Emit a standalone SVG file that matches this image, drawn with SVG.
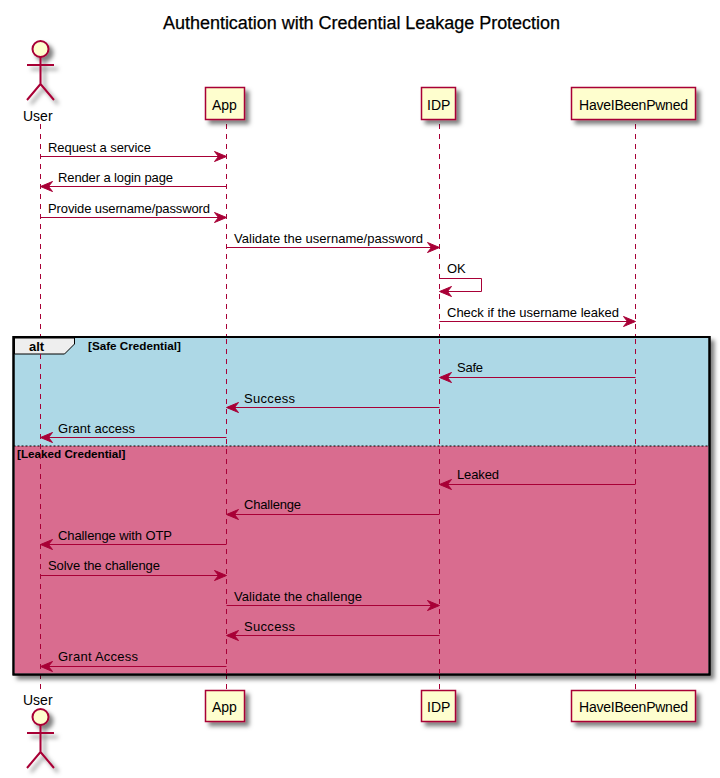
<svg xmlns="http://www.w3.org/2000/svg" width="720" height="778" viewBox="0 0 720 778">
<style>
text{font-family:"Liberation Sans",Arial,sans-serif;fill:#000}
.t{font-size:13px}
.b{font-size:14px}
.g{font-size:11.7px;font-weight:bold}
.p{fill:#FEFECE;stroke:#A80036;stroke-width:1.5}
.a{fill:none;stroke:#A80036;stroke-width:2}
.l{stroke:#A80036;stroke-width:1;stroke-dasharray:5,5}
.m{stroke:#A80036;stroke-width:1;fill:none}
.h{fill:#A80036;stroke:#A80036;stroke-width:1}
</style>
<defs>
<filter id="s" x="-30%" y="-30%" width="170%" height="170%"><feDropShadow dx="4" dy="4" stdDeviation="2" flood-color="#000" flood-opacity="0.5"/></filter>
<g id="actor"><g filter="url(#s)"><circle cx="40.5" cy="0" r="8" class="p" style="stroke-width:2"/><path class="a" d="M40.5 8V35M27 16H54M40.5 35L27 51M40.5 35L54 51"/></g></g>
<path id="ar" class="h" d="M0 0L-12 -5L-8 0L-12 5Z"/>
<path id="al" class="h" d="M0 0L12 -5L8 0L12 5Z"/>
</defs>
<text id="title" x="163" y="29" style="font-size:18px;stroke:#000;stroke-width:.25" textLength="397">Authentication with Credential Leakage Protection</text>
<g id="lifelines">
<line class="l" x1="40.5" y1="124" x2="40.5" y2="690"/>
<line class="l" x1="226.5" y1="124" x2="226.5" y2="690"/>
<line class="l" x1="439.5" y1="124" x2="439.5" y2="690"/>
<line class="l" x1="635.5" y1="124" x2="635.5" y2="690"/>
</g>
<g id="frame-alt">
<rect x="13.5" y="337" width="696" height="337.5" fill="#ADD8E6" stroke="#000" stroke-width="2" filter="url(#s)"/>
<rect x="14.5" y="446" width="694" height="227.5" fill="#D96C8F"/>
<line x1="13.5" y1="446" x2="709.5" y2="446" stroke="#000" stroke-dasharray="2,2"/>
<rect x="13.5" y="337" width="696" height="337.5" fill="none" stroke="#000" stroke-width="2"/>
<path d="M14.5 338H74.5V344L64.5 354H14.5Z" fill="#EEEEEE" stroke="#000" stroke-width="1"/>
<text x="29" y="351" style="font-size:13px;font-weight:bold">alt</text>
<text x="88" y="350" class="g">[Safe Credential]</text>
<text x="17" y="457.5" class="g">[Leaked Credential]</text>
<line class="l" x1="40.5" y1="354" x2="40.5" y2="674"/>
<line class="l" x1="226.5" y1="339" x2="226.5" y2="674"/>
<line class="l" x1="439.5" y1="339" x2="439.5" y2="674"/>
<line class="l" x1="635.5" y1="339" x2="635.5" y2="674"/>
</g>
<g id="connectors">
<line class="m" x1="40.5" y1="156.5" x2="225" y2="156.5"/><use href="#ar" x="226.5" y="156.5"/>
<line class="m" x1="41" y1="186.5" x2="226.5" y2="186.5"/><use href="#al" x="40.5" y="186.5"/>
<line class="m" x1="40.5" y1="217.5" x2="225" y2="217.5"/><use href="#ar" x="226.5" y="217.5"/>
<line class="m" x1="226.5" y1="247.5" x2="438" y2="247.5"/><use href="#ar" x="439.5" y="247.5"/>
<path class="m" d="M439.5 278.5H481.5V291.5H441"/><use href="#al" x="439.5" y="291.5"/>
<line class="m" x1="439.5" y1="321.5" x2="634" y2="321.5"/><use href="#ar" x="635.5" y="321.5"/>
<line class="m" x1="441" y1="377.5" x2="635.5" y2="377.5"/><use href="#al" x="439.5" y="377.5"/>
<line class="m" x1="228" y1="407.5" x2="439.5" y2="407.5"/><use href="#al" x="226.5" y="407.5"/>
<line class="m" x1="42" y1="437.5" x2="226.5" y2="437.5"/><use href="#al" x="40.5" y="437.5"/>
<line class="m" x1="441" y1="484.5" x2="635.5" y2="484.5"/><use href="#al" x="439.5" y="484.5"/>
<line class="m" x1="228" y1="514.5" x2="439.5" y2="514.5"/><use href="#al" x="226.5" y="514.5"/>
<line class="m" x1="42" y1="544.5" x2="226.5" y2="544.5"/><use href="#al" x="40.5" y="544.5"/>
<line class="m" x1="40.5" y1="575.5" x2="225" y2="575.5"/><use href="#ar" x="226.5" y="575.5"/>
<line class="m" x1="226.5" y1="605.5" x2="438" y2="605.5"/><use href="#ar" x="439.5" y="605.5"/>
<line class="m" x1="228" y1="635.5" x2="439.5" y2="635.5"/><use href="#al" x="226.5" y="635.5"/>
<line class="m" x1="42" y1="666.5" x2="226.5" y2="666.5"/><use href="#al" x="40.5" y="666.5"/>
</g>
<g id="labels">
<text class="t" x="48" y="152" textLength="103">Request a service</text>
<text class="t" x="58" y="182" textLength="115">Render a login page</text>
<text class="t" x="48" y="213" textLength="162">Provide username/password</text>
<text class="t" x="234" y="243" textLength="189">Validate the username/password</text>
<text class="t" x="447" y="273">OK</text>
<text class="t" x="447" y="317" textLength="172">Check if the username leaked</text>
<text class="t" x="457" y="372" textLength="26">Safe</text>
<text class="t" x="244" y="403" textLength="51">Success</text>
<text class="t" x="58" y="433" textLength="77">Grant access</text>
<text class="t" x="457" y="479" textLength="42">Leaked</text>
<text class="t" x="244" y="509" textLength="57">Challenge</text>
<text class="t" x="58" y="540" textLength="114">Challenge with OTP</text>
<text class="t" x="48" y="570" textLength="112">Solve the challenge</text>
<text class="t" x="234" y="601" textLength="128">Validate the challenge</text>
<text class="t" x="244" y="631" textLength="51">Success</text>
<text class="t" x="58" y="661" textLength="80">Grant Access</text>
</g>
<g id="user-top"><use href="#actor" y="49"/><text class="b" x="23" y="121">User</text></g>
<g id="app-top"><rect x="205.5" y="87.5" width="39" height="32" class="p" filter="url(#s)"/><text class="b" x="212" y="110">App</text></g>
<g id="idp-top"><rect x="421.5" y="87.5" width="34" height="32" class="p" filter="url(#s)"/><text class="b" x="427" y="110">IDP</text></g>
<g id="hibp-top"><rect x="571.5" y="87.5" width="124" height="32" class="p" filter="url(#s)"/><text class="b" x="579" y="110" textLength="109">HaveIBeenPwned</text></g>
<g id="user-bottom"><text class="b" x="23" y="705">User</text><use href="#actor" y="717"/></g>
<g id="app-bottom"><rect x="205.5" y="690.5" width="39" height="31" class="p" filter="url(#s)"/><text class="b" x="212" y="712">App</text></g>
<g id="idp-bottom"><rect x="421.5" y="690.5" width="34" height="31" class="p" filter="url(#s)"/><text class="b" x="427" y="712">IDP</text></g>
<g id="hibp-bottom"><rect x="571.5" y="690.5" width="124" height="31" class="p" filter="url(#s)"/><text class="b" x="579" y="712" textLength="109">HaveIBeenPwned</text></g>
</svg>
